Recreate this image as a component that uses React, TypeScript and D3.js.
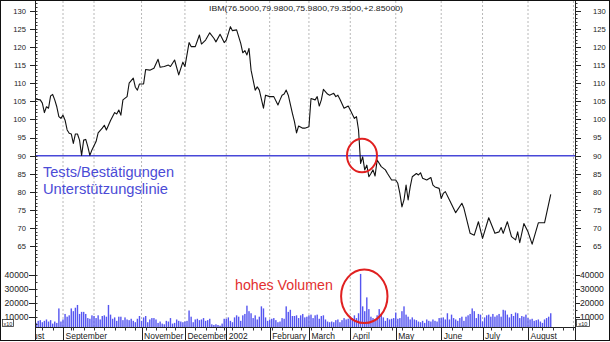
import React from 'react';
import * as d3 from 'd3';

const W = 610;
const H = 342;

const TITLE = 'IBM(76.5000,79.9800,75.9800,79.3500,+2.85000)';
const SUPPORT_LEVEL = 90;
const priceTicks = [65, 70, 75, 80, 85, 90, 95, 100, 105, 110, 115, 120, 125, 130];
const volumeTicks = [10000, 20000, 30000, 40000];
const monthNames = ['August', 'September', 'October', 'November', 'December', '2002', 'February', 'March', 'April', 'May', 'June', 'July', 'August'];
const monthLabelShown = [true, true, false, true, true, true, true, true, true, true, true, true, true];
const holidays = ['2001-09-03', '2001-09-11', '2001-09-12', '2001-09-13', '2001-09-14', '2001-11-22', '2001-12-25', '2002-01-01', '2002-01-21', '2002-02-18', '2002-03-29', '2002-05-27', '2002-07-04', '2002-09-02'];
const startDate = new Date(2001, 7, 15);

// [trading-day index, close]
const pricePoints: [number, number][] = [
  [0, 105.6], [2, 105.4], [3, 104.5], [4, 101.9], [5, 103.5], [6, 103.1], [7, 106.5], [8, 106.9], [9, 105.4], [10, 103.5],
  [11, 100.8], [12, 100.3], [13, 101.2], [14, 99.8], [15, 97.1], [16, 96.2], [17, 96.0], [18, 93.4], [19, 96.0], [20, 96.0],
  [21, 94.3], [22, 90.1], [23, 94.3], [24, 94.5], [25, 92.5], [26, 90.1], [27, 91.6], [29, 93.9], [30, 96.3], [32, 97.6],
  [33, 98.4], [34, 97.1], [36, 99.7], [38, 101.9], [39, 101.5], [40, 102.6], [41, 101.2], [42, 105.4], [44, 106.3], [45, 110.0],
  [47, 111.4], [48, 108.9], [49, 108.1], [50, 109.8], [52, 109.8], [53, 113.8], [55, 113.6], [57, 114.1], [59, 116.6], [60, 114.4],
  [62, 114.6], [64, 115.0], [65, 114.6], [67, 116.4], [69, 112.3], [70, 114.1], [71, 115.8], [72, 114.6], [74, 121.2], [75, 120.1],
  [77, 120.1], [79, 123.3], [80, 120.8], [82, 121.9], [84, 123.9], [86, 122.4], [87, 121.4], [89, 123.5], [91, 121.2], [92, 121.9],
  [94, 125.6], [95, 124.5], [97, 124.7], [99, 121.0], [100, 118.4], [101, 119.0], [102, 117.8], [103, 119.6], [104, 113.6], [106, 108.1],
  [107, 109.0], [108, 108.1], [110, 103.1], [111, 106.7], [113, 106.3], [115, 106.3], [117, 104.0], [118, 105.4], [119, 106.7], [120, 107.0],
  [121, 108.1], [122, 106.7], [124, 101.7], [125, 99.4], [126, 96.3], [127, 98.2], [129, 97.6], [130, 97.6], [132, 98.0], [133, 105.8],
  [135, 105.4], [136, 106.3], [137, 103.7], [138, 105.4], [139, 108.3], [141, 107.0], [142, 106.7], [144, 107.2], [145, 106.3], [146, 106.7],
  [147, 105.6], [149, 103.1], [151, 103.7], [152, 102.6], [154, 100.3], [155, 100.8], [156, 97.1], [157, 87.9], [158, 89.7], [159, 86.1],
  [160, 87.4], [161, 84.2], [162, 85.1], [163, 86.1], [164, 84.4], [165, 88.8], [167, 87.0], [169, 86.1], [170, 85.1], [172, 83.3],
  [174, 83.3], [175, 82.4], [176, 79.6], [177, 75.9], [178, 77.8], [179, 81.9], [180, 77.8], [181, 81.4], [182, 84.2], [184, 85.1],
  [185, 84.7], [186, 85.3], [187, 83.8], [189, 83.3], [191, 84.0], [192, 81.9], [193, 81.4], [195, 81.0], [196, 78.2], [197, 79.6],
  [198, 80.1], [200, 77.8], [203, 74.3], [206, 76.9], [207, 75.5], [210, 68.6], [212, 68.1], [214, 71.8], [216, 67.2], [219, 72.9],
  [222, 68.6], [224, 69.0], [225, 70.2], [226, 68.6], [228, 71.8], [230, 67.7], [232, 66.8], [233, 69.0], [234, 66.0], [236, 71.3],
  [238, 69.0], [240, 65.6], [243, 71.5], [246, 71.5], [249, 79.35],
];

const volumes = [
  5500, 7000, 7500, 6000, 7000, 8000, 6500, 7500, 5000, 6500, 5500, 16000, 6500,
  8000, 12000, 10000, 11000, 16000, 14000, 16500, 18500, 12000, 13500, 13500, 12000, 9000, 8500, 11000,
  10500, 9000, 11000, 8000, 10500, 11000, 10000, 18500, 11500, 8500, 9500, 7000, 10000, 10000, 7500, 9500, 8000, 7500, 8500, 7000, 6000, 8500, 10500,
  7000, 9500, 10500, 6000, 8000, 9000, 9000, 8000, 5500, 6500, 5000, 4500, 7000, 6500, 9000, 5000, 5500, 8000, 7000, 6500, 6000,
  6500, 7000, 14500, 10000, 6000, 8000, 8500, 7500, 8000, 9000, 7000, 7500, 8500, 4500, 4000, 4500, 4000, 3500, 5000, 8500,
  8500, 9500, 7000, 6000, 9500, 11000, 10000, 7000, 11000, 12000, 18000, 14000, 12500, 9000, 11000, 8000, 10000, 17500, 16000, 9500, 7000,
  8000, 8500, 9000, 7500, 6000, 6500, 9000, 8500, 17500, 13500, 15000, 10500, 10500, 11000, 9000, 11000, 12000, 9500, 10000,
  11000, 11500, 9000, 11000, 11500, 8500, 10500, 11000, 8000, 6500, 6000, 6500, 6000, 7500, 8000, 6000, 7500, 9000, 8000, 8500,
  10000, 9000, 11000, 9000, 12500, 41000, 17500, 14000, 24000, 15500, 10000, 9000, 8000, 11000, 15500, 12000, 9500, 7000, 9000, 8000, 8500, 9000,
  13000, 8500, 9000, 14000, 17500, 11500, 10000, 8000, 9500, 8000, 7500, 6500, 6000, 7000, 5500, 8000, 7000, 6500, 8000, 7000, 6500, 9000,
  9000, 9500, 8000, 12500, 8000, 11500, 9000, 8000, 7000, 9000, 10000, 7000, 10000, 11000, 12000, 16000, 14000, 9000, 12000, 11500,
  6500, 9500, 11000, 11500, 10000, 12000, 10000, 11000, 12000, 10000, 15000, 14500, 11500, 9500, 12000, 10500, 13000, 12500, 9000, 10500, 10000, 11500,
  9000, 8000, 8500, 7000, 7500, 8000, 6500, 5500, 8000, 9000, 10000, 12500,
];

// trading calendar
const fmt = d3.timeFormat('%Y-%m-%d');
function buildCalendar(n: number): Date[] {
  const out: Date[] = [];
  const hol = new Set(holidays);
  let d = new Date(startDate);
  while (out.length < n) {
    const wd = d.getDay();
    if (wd !== 0 && wd !== 6 && !hol.has(fmt(d))) out.push(new Date(d));
    d = d3.timeDay.offset(d, 1);
  }
  return out;
}
const calendar = buildCalendar(265);

const L = 35;
const R = 575;
const AXIS_Y = 327;
const FONT = 'Arial, "Liberation Sans", sans-serif';

export default function App() {
  const x = d3.scaleLinear().domain([-0.55, 260.74]).range([L, R]);
  const yP = d3.scaleLinear().domain([60, 130]).range([264.5, 10.7]);
  const yV = d3.scaleLinear().domain([0, 40000]).range([330.5, 275.3]);

  const monthStarts: number[] = [];
  const weekStarts: number[] = [];
  calendar.forEach((d, i) => {
    if (i > 0 && d.getMonth() !== calendar[i - 1].getMonth()) monthStarts.push(i);
    if (i > 0 && (d.getDay() < calendar[i - 1].getDay() || d3.timeDay.count(calendar[i - 1], d) >= 7)) weekStarts.push(i);
  });
  const visibleMonths = monthStarts.filter((i) => x(i) < R);
  const visibleWeeks = weekStarts.filter((i) => x(i) < R);

  const line = d3.line<[number, number]>().x((d) => x(d[0])).y((d) => yP(d[1]));

  const minorPrice = d3.range(60, 133, 1);
  const minorVol = d3.range(5000, 45000, 5000);

  const monthLabelIdx = [-10, ...visibleMonths];

  return (
    <svg width={W} height={H} style={{ position: 'fixed', left: 0, top: 0, background: '#fff' }} fontFamily={FONT}>
      <defs>
        <clipPath id="stripClip">
          <rect x={L} y={AXIS_Y} width={R - L} height={14} />
        </clipPath>
      </defs>
      <rect x={0} y={0} width={W} height={H} fill="#fff" />

      {visibleMonths.map((i) => (
        <line key={'g' + i} x1={x(i)} x2={x(i)} y1={1} y2={AXIS_Y} stroke="#b8b8b8" strokeDasharray="2,2" strokeWidth={1} />
      ))}

      {volumes.map((v, i) => (
        <rect key={'v' + i} x={x(i) - 0.7} width={1.4} y={yV(v)} height={Math.max(0, AXIS_Y - yV(v))} fill="#5555f0" />
      ))}

      <line x1={L} x2={R} y1={yP(SUPPORT_LEVEL)} y2={yP(SUPPORT_LEVEL)} stroke="#4848d8" strokeWidth={1.6} />

      <path d={line(pricePoints) || ''} fill="none" stroke="#111" strokeWidth={1.1} strokeLinejoin="round" />

      <text x={209} y={10.5} fontSize={8} fill="#222" textLength={194} lengthAdjust="spacingAndGlyphs">{TITLE}</text>

      <line x1={L + 0.5} x2={L + 0.5} y1={0} y2={341} stroke="#222" />
      <line x1={R + 0.5} x2={R + 0.5} y1={0} y2={341} stroke="#222" />
      {minorPrice.map((v) => (
        <g key={'mp' + v}>
          <line x1={L + 0.5} x2={L + 2.5} y1={Math.round(yP(v)) + 0.5} y2={Math.round(yP(v)) + 0.5} stroke="#333" />
          <line x1={R + 0.5} x2={R + 2.5} y1={Math.round(yP(v)) + 0.5} y2={Math.round(yP(v)) + 0.5} stroke="#333" />
        </g>
      ))}
      {priceTicks.map((v) => (
        <g key={'tp' + v}>
          <line x1={L - 5} x2={L + 0.5} y1={Math.round(yP(v)) + 0.5} y2={Math.round(yP(v)) + 0.5} stroke="#222" />
          <line x1={R + 0.5} x2={R + 6} y1={Math.round(yP(v)) + 0.5} y2={Math.round(yP(v)) + 0.5} stroke="#222" />
          <text x={26} y={yP(v) + 2.8} fontSize={7.6} textAnchor="end" fill="#222">{v}</text>
          <text x={593} y={yP(v) + 2.8} fontSize={7.6} fill="#222">{v}</text>
        </g>
      ))}
      {minorVol.map((v) => (
        <g key={'mv' + v}>
          <line x1={L + 0.5} x2={L + 2.5} y1={Math.round(yV(v)) + 0.5} y2={Math.round(yV(v)) + 0.5} stroke="#333" />
          <line x1={R + 0.5} x2={R + 2.5} y1={Math.round(yV(v)) + 0.5} y2={Math.round(yV(v)) + 0.5} stroke="#333" />
        </g>
      ))}
      {volumeTicks.map((v) => (
        <g key={'tv' + v}>
          <line x1={L - 6} x2={L + 0.5} y1={Math.round(yV(v)) + 0.5} y2={Math.round(yV(v)) + 0.5} stroke="#222" />
          <line x1={R + 0.5} x2={R + 5} y1={Math.round(yV(v)) + 0.5} y2={Math.round(yV(v)) + 0.5} stroke="#222" />
          <text x={28.5} y={yV(v) + 3} fontSize={8.6} textAnchor="end" fill="#222">{v}</text>
          <text x={580} y={yV(v) + 3} fontSize={8.6} fill="#222">{v}</text>
        </g>
      ))}

      <rect x={2.5} y={319.5} width={11} height={7} fill="#fff" stroke="#333" strokeWidth={0.8} />
      <text x={8} y={325.5} fontSize={5.5} textAnchor="middle" fill="#222">x10</text>
      <rect x={576.5} y={319.5} width={13} height={7} fill="#fff" stroke="#333" strokeWidth={0.8} />
      <text x={583} y={325.5} fontSize={5.5} textAnchor="middle" fill="#222">x10</text>

      <line x1={L} x2={R + 1} y1={AXIS_Y + 0.5} y2={AXIS_Y + 0.5} stroke="#222" />
      {visibleWeeks.map((i) => (
        <line key={'w' + i} x1={Math.round(x(i)) + 0.5} x2={Math.round(x(i)) + 0.5} y1={AXIS_Y} y2={AXIS_Y + 3.5} stroke="#333" />
      ))}
      {visibleMonths.map((i, k) =>
        monthLabelShown[k + 1] ? (
          <line key={'s' + i} x1={Math.round(x(i)) + 0.5} x2={Math.round(x(i)) + 0.5} y1={AXIS_Y} y2={341} stroke="#222" />
        ) : null
      )}
      <g clipPath="url(#stripClip)">
        {monthLabelIdx.map((i, k) =>
          monthLabelShown[k] ? (
            <text key={'ml' + k} x={x(i) + 2.5} y={338.5} fontSize={8.5} fill="#222">{monthNames[k]}</text>
          ) : null
        )}
      </g>

      <text x={43} y={177} fontSize={14} fill="#4b4bd6" textLength={131} lengthAdjust="spacingAndGlyphs">Tests/Bestätigungen</text>
      <text x={43} y={193.5} fontSize={14} fill="#4b4bd6" textLength={125} lengthAdjust="spacingAndGlyphs">Unterstützungslinie</text>
      <text x={235} y={290} fontSize={14.2} fill="#e23030">hohes Volumen</text>
      <ellipse cx={362} cy={155.5} rx={15} ry={16.8} fill="none" stroke="#e02020" strokeWidth={2} />
      <ellipse cx={364.3} cy={296.3} rx={23.2} ry={26.8} fill="none" stroke="#e02020" strokeWidth={2} />

      <rect x={0.5} y={0.5} width={W - 1} height={340} fill="none" stroke="#111" />
    </svg>
  );
}
